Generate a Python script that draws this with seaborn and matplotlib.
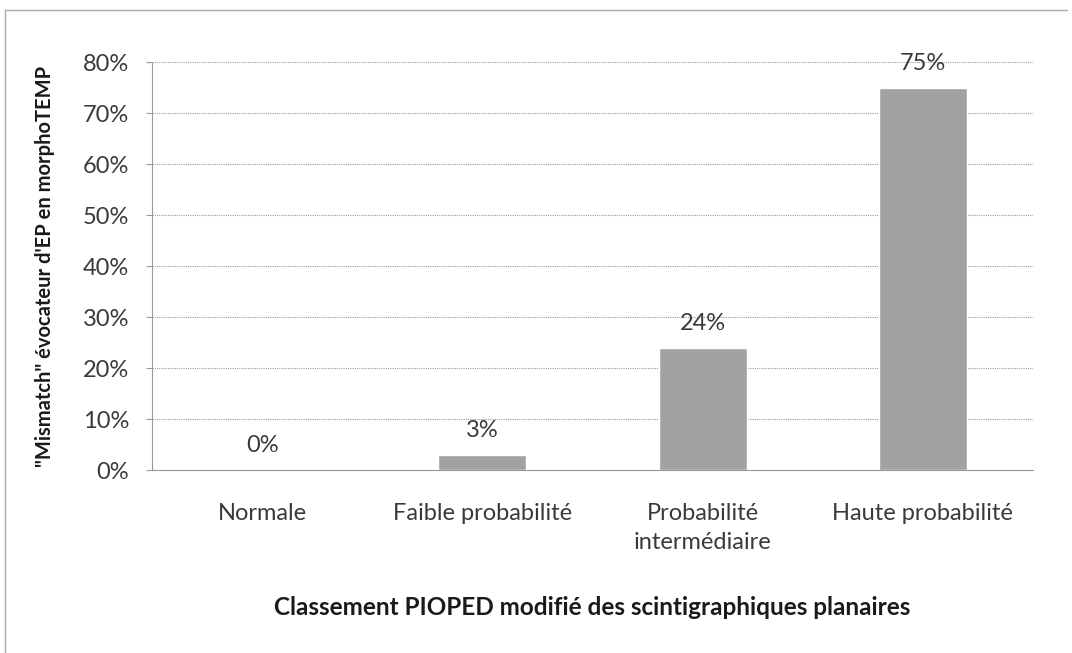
import matplotlib
matplotlib.use("Agg")
import matplotlib.pyplot as plt
import seaborn as sns
import pandas as pd
from matplotlib.ticker import FuncFormatter, MultipleLocator

categories = ["Normale", "Faible probabilité", "Probabilité\nintermédiaire", "Haute probabilité"]
values = [0, 3, 24, 75]
labels = ["0%", "3%", "24%", "75%"]

sns.set_theme(style="white")
plt.rcParams['font.family'] = ['Lato', 'DejaVu Sans']

df = pd.DataFrame({"cat": categories, "val": values})

fig = plt.figure(figsize=(10.72, 6.53), dpi=100)
ax = fig.add_axes([0.1418, 0.2802, 0.9636 - 0.1418, 0.905 - 0.2802])

sns.barplot(data=df, x="cat", y="val", color="#a2a2a2", width=0.4, ax=ax, saturation=1)

ax.set_ylim(0, 80)
ax.yaxis.set_major_locator(MultipleLocator(10))
ax.yaxis.set_major_formatter(FuncFormatter(lambda v, p: f"{int(v)}%"))
ax.grid(axis="y", color="#999999", linestyle=(0, (1, 1)), linewidth=0.8)
ax.set_axisbelow(True)
for s in ["top", "right"]:
    ax.spines[s].set_visible(False)
for s in ["left", "bottom"]:
    ax.spines[s].set_color("#999999")
    ax.spines[s].set_linestyle((0, (1, 1)))
    ax.spines[s].set_linewidth(0.8)

ax.tick_params(axis="y", labelsize=17, labelcolor="#3a3a3a", color="#999999",
               pad=12, length=4.5, width=0.8, left=True)
ax.tick_params(axis="x", labelsize=17, labelcolor="#3a3a3a", pad=24, length=0)
for t in ax.get_xticklabels():
    t.set_linespacing(1.45)

for i, (v, lab) in enumerate(zip(values, labels)):
    ax.annotate(lab, (i, v), xytext=(0, 10), textcoords="offset points",
                ha="center", va="bottom", fontsize=17, color="#3a3a3a")

ax.set_xlabel("Classement PIOPED modifié des scintigraphiques planaires",
              fontsize=17.5, fontweight="bold", color="#1a1a1a", labelpad=31)
ax.set_ylabel("\"Mismatch\" évocateur d'EP en morphoTEMP",
              fontsize=14.5, fontweight="bold", color="#1a1a1a", labelpad=20)

fig.add_artist(plt.Line2D([0.005, 0.995], [0.985, 0.985], transform=fig.transFigure,
                          color="#aaaaaa", linewidth=1))
fig.add_artist(plt.Line2D([0.005, 0.005], [0.0, 0.985], transform=fig.transFigure,
                          color="#aaaaaa", linewidth=1))

fig.savefig("out.png", dpi=100)
